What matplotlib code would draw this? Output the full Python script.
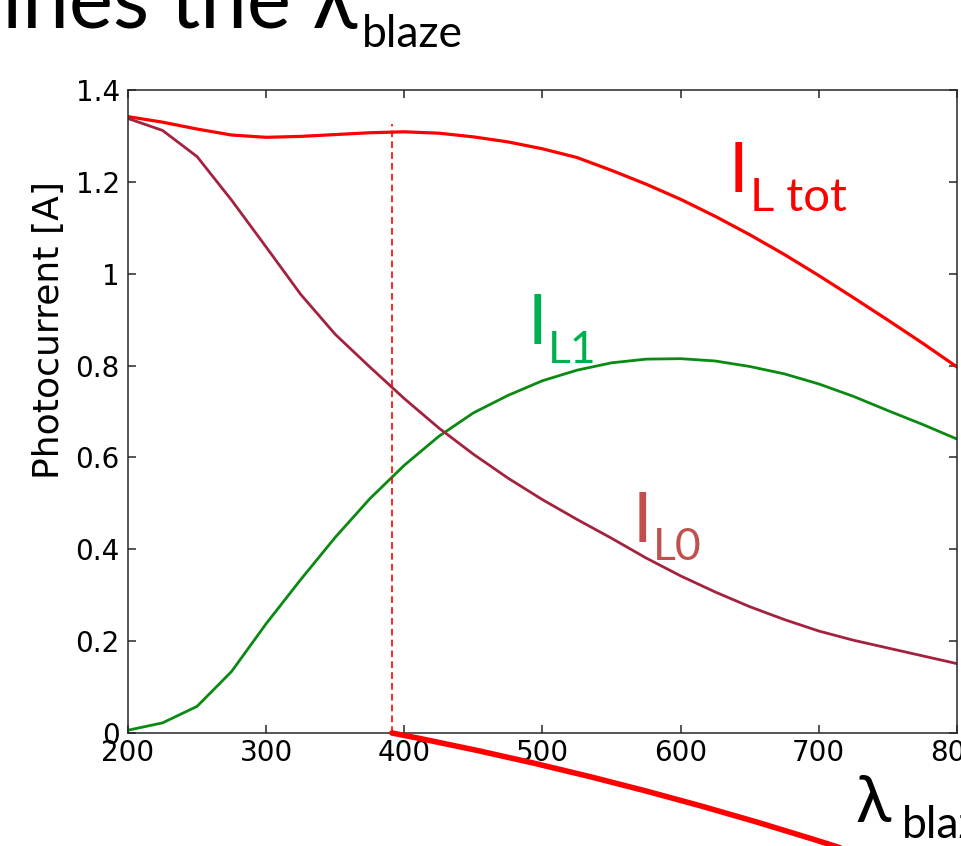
import numpy as np
import matplotlib
matplotlib.use('Agg')
import matplotlib.pyplot as plt

# wavelength grid [nm]
wl = [200, 225, 250, 275, 300, 325, 350, 375, 400, 425, 450, 475, 500,
      525, 550, 575, 600, 625, 650, 675, 700, 725, 750, 775, 800]

# photocurrents [A]
i_tot = [1.342, 1.330, 1.315, 1.302, 1.297, 1.299, 1.303, 1.307, 1.309, 1.306, 1.298, 1.287, 1.272,
         1.253, 1.225, 1.195, 1.162, 1.125, 1.085, 1.042, 0.996, 0.948, 0.899, 0.849, 0.797]
i_l1 = [0.006, 0.022, 0.058, 0.134, 0.238, 0.334, 0.426, 0.510, 0.583, 0.646, 0.697, 0.735, 0.767,
        0.790, 0.806, 0.814, 0.815, 0.810, 0.798, 0.782, 0.760, 0.733, 0.702, 0.672, 0.640]
i_l0 = [1.338, 1.312, 1.255, 1.160, 1.058, 0.955, 0.868, 0.797, 0.728, 0.664, 0.607, 0.555, 0.508,
        0.465, 0.424, 0.381, 0.342, 0.307, 0.275, 0.247, 0.222, 0.202, 0.185, 0.168, 0.151]

blaze_wl = 391
blaze_top = 1.325

xticks = [200, 300, 400, 500, 600, 700, 800]
yticks = [0, 0.2, 0.4, 0.6, 0.8, 1, 1.2, 1.4]
yticklabels = ['0', '0.2', '0.4', '0.6', '0.8', '1', '1.2', '1.4']

fig = plt.figure(figsize=(9.61, 8.46), dpi=100)
ax = fig.add_axes([0.1332, 0.1336, 0.8626, 0.76])

ax.plot(wl, i_tot, color='#ff0000', lw=2.3)
ax.plot(wl, i_l1, color='#0a8a12', lw=2.0)
ax.plot(wl, i_l0, color='#a3223f', lw=2.0)
ax.vlines(blaze_wl, 0, blaze_top, color='#ff0000', lw=1.2, linestyles=(0, (4, 2.5)))

ax.set_xlim(200, 800)
ax.set_ylim(0, 1.4)
ax.set_xticks(xticks)
ax.set_yticks(yticks)
ax.set_yticklabels(yticklabels)
for s in ax.spines.values():
    s.set_color('#262626')
    s.set_linewidth(1.1)
ax.tick_params(direction='in', length=6, width=1.1, color='#262626',
               top=True, right=True, labelsize=20)
ax.tick_params(axis='x', pad=4)
ax.tick_params(axis='y', pad=6)
ax.set_ylabel('Photocurrent [A]', fontsize=26)
ax.yaxis.set_label_coords(-0.075, 0.627)

# curve labels
lab = dict(family='Lato', va='baseline', ha='left')
ax.text(635, 1.179, 'I', fontsize=50, color='#ff0000', **lab)
ax.text(650, 1.137, 'L tot', fontsize=34, color='#ff0000', **lab)
ax.text(489, 0.847, 'I', fontsize=50, color='#00b050', **lab)
ax.text(504, 0.806, 'L1', fontsize=32, color='#00b050', **lab)
ax.text(565, 0.416, 'I', fontsize=50, color='#c0504d', **lab)
ax.text(580, 0.376, 'L0', fontsize=32, color='#c0504d', **lab)

# slide leftovers: title and pointer
fig.text(357 / 961, 1 - 27 / 846, 'The grating period determines the λ', ha='right',
         va='baseline', fontsize=60, family='Lato')
fig.text(362 / 961, 1 - 47 / 846, 'blaze', ha='left', va='baseline', fontsize=32, family='Lato')
fig.text(856 / 961, 1 - 822 / 846, 'λ', ha='left', va='baseline', fontsize=47, family='Lato')
fig.text(902 / 961, 1 - 838 / 846, 'blaze', ha='left', va='baseline', fontsize=32, family='Lato')

ax.annotate('', xy=(blaze_wl, 0), xycoords='data',
            xytext=(0.874, -0.002), textcoords='figure fraction',
            arrowprops=dict(arrowstyle='-', color='#ff0000', lw=4,
                            connectionstyle='arc3,rad=0.03', shrinkA=0, shrinkB=0),
            annotation_clip=False)

fig.savefig('out.png', dpi=100)
